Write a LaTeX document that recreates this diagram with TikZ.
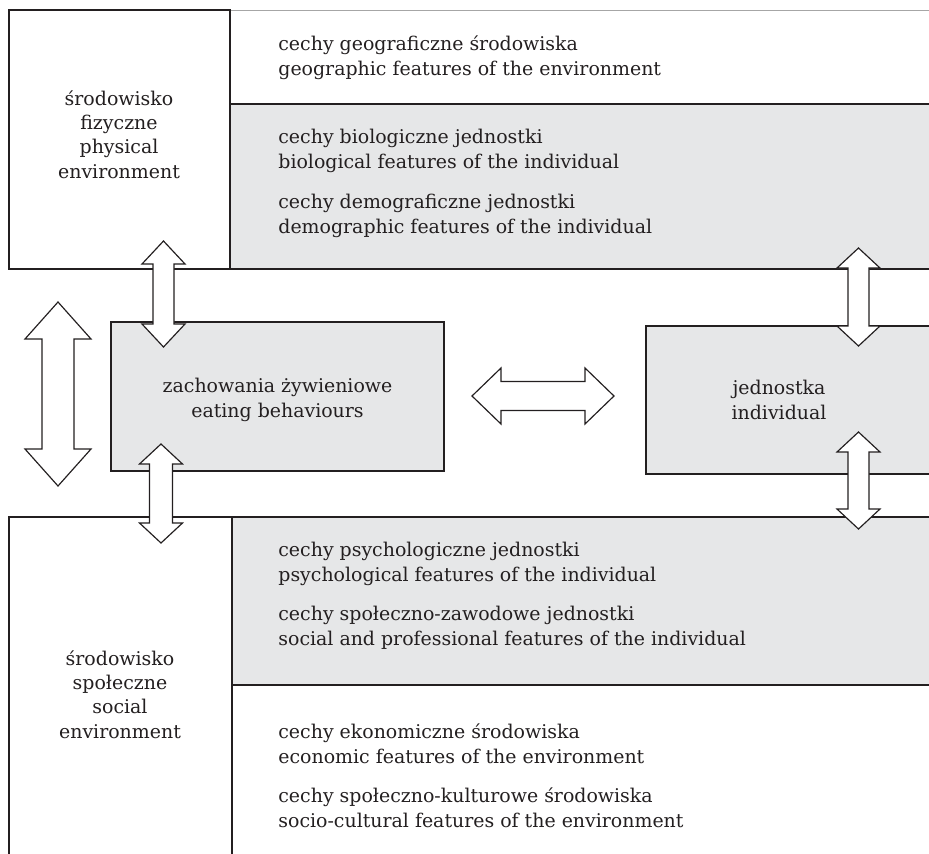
\documentclass[tikz,border=0pt]{standalone}
\usepackage{fontspec}
\setmainfont{DejaVu Serif}
\usetikzlibrary{positioning}
\definecolor{boxgray}{RGB}{230,231,232}
\definecolor{ink}{RGB}{35,31,32}
\tikzset{box/.style={draw=ink, line width=0.7pt},
         graybox/.style={box, fill=boxgray},
         whitebox/.style={box, fill=white},
         txt/.style={text=ink, font=\fontsize{9.7}{12.4}\selectfont, inner sep=0pt},
         feat/.style={txt, align=left, anchor=base west},
         side/.style={txt, align=center, anchor=base},
         biarrow/.style={draw=ink, fill=white, line width=0.6pt}}
% #1 x, #2 top tip, #3 bottom tip, #4 head length, #5 head half width, #6 shaft half width
\newcommand{\vbiarrow}[6]{%
  \path[biarrow] (#1,#2) -- (#1+#5,#2+#4) -- (#1+#6,#2+#4) -- (#1+#6,#3-#4)
    -- (#1+#5,#3-#4) -- (#1,#3) -- (#1-#5,#3-#4) -- (#1-#6,#3-#4)
    -- (#1-#6,#2+#4) -- (#1-#5,#2+#4) -- cycle;}
% #1 y, #2 left tip, #3 right tip, then as above
\newcommand{\hbiarrow}[6]{%
  \path[biarrow] (#2,#1) -- (#2+#4,#1-#5) -- (#2+#4,#1-#6) -- (#3-#4,#1-#6)
    -- (#3-#4,#1-#5) -- (#3,#1) -- (#3-#4,#1+#5) -- (#3-#4,#1+#6)
    -- (#2+#4,#1+#6) -- (#2+#4,#1+#5) -- cycle;}

\begin{document}
\begin{tikzpicture}[x=0.018cm, y=-0.018cm]
    \useasboundingbox (0,0) rectangle (929,854);
    \clip (0,0) rectangle (929,854);

    % upper band
    \draw[gray!70, line width=0.5pt] (230,10) -- (940,10);
    \path[graybox] (230,104) rectangle (940,269);
    \path[whitebox] (9,10) rectangle (230,269);

    % middle boxes
    \path[graybox] (111,322) rectangle (444,471);
    \path[graybox] (646,326) rectangle (940,474);

    % lower band
    \path[graybox] (232,517) rectangle (940,685);
    \path[whitebox] (9,517) rectangle (232,870);

    % texts (base = last line)
    \node[side] (phys) at (119,178) {środowisko\\fizyczne\\physical\\environment};
    \node[side] (soc) at (120,738) {środowisko\\społeczne\\social\\environment};
    \node[side] (eat) at (277.5,417) {zachowania żywieniowe\\eating behaviours};
    \node[side] (ind) at (779,419) {jednostka\\individual};

    \node[feat] (geo) at (278,75) {cechy geograficzne środowiska\\geographic features of the environment};
    \node[feat] (bio) at (278,168) {cechy biologiczne jednostki\\biological features of the individual};
    \node[feat] (demo) at (278,233) {cechy demograficzne jednostki\\demographic features of the individual};
    \node[feat] (psy) at (278,581) {cechy psychologiczne jednostki\\psychological features of the individual};
    \node[feat] (prof) at (278,645) {cechy społeczno-zawodowe jednostki\\social and professional features of the individual};
    \node[feat] (eco) at (278,763) {cechy ekonomiczne środowiska\\economic features of the environment};
    \node[feat] (cult) at (278,827) {cechy społeczno-kulturowe środowiska\\socio-cultural features of the environment};

    % block arrows
    \vbiarrow{163.5}{241}{347}{23}{21.5}{10.5}
    \vbiarrow{58}{302}{486}{37}{33}{16}
    \vbiarrow{161}{444}{543}{20}{21.5}{11.5}
    \vbiarrow{858.5}{248}{346}{20}{21.5}{10.5}
    \vbiarrow{858.5}{432}{529}{20}{21.5}{10.5}
    \hbiarrow{396}{472}{614}{29}{28}{14.5}

\end{tikzpicture}
\end{document}
